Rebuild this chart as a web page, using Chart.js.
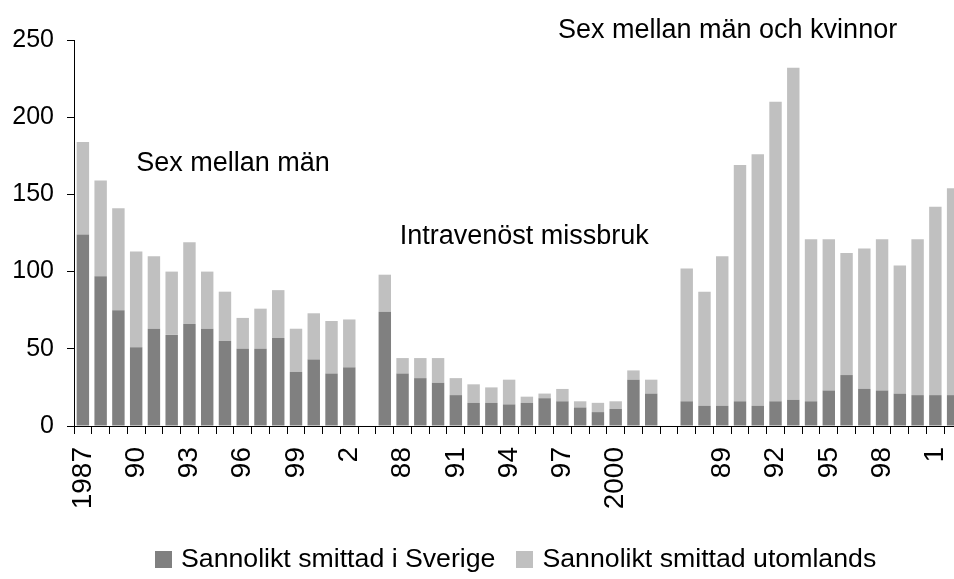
<!DOCTYPE html>
<html>
<head>
<meta charset="utf-8">
<script src="https://cdn.jsdelivr.net/npm/chart.js@4"></script>
<style>
  html, body { margin: 0; padding: 0; background: #fff; overflow: hidden; }
  canvas { display: block; }
  #wrap { position: relative; width: 962px; height: 579px; }
  #legend {
    position: absolute; left: 155px; top: 543px;
    font-family: 'Liberation Sans', Arial, sans-serif; font-size: 26.7px; line-height: 30px;
    color: #000; white-space: nowrap;
  }
  #legend span.item { display: inline-block; margin-right: 21px; }
  #legend span.box { display: inline-block; width: 17px; height: 17px; margin-right: 9px; vertical-align: -1px; }
</style>
</head>
<body>
<div id="wrap">
  <canvas id="myChart" width="962" height="579"></canvas>
  <div id="legend"></div>
</div>
<script>
// Years 1987-2002, repeated for the three groups
var years = ['1987','1988','1989','1990','1991','1992','1993','1994','1995','1996','1997','1998','1999','2000','2001','2002'];

// Sex mellan män
var smmSverige   = [124, 97, 75, 51, 63, 59, 66, 63, 55, 50, 50, 57, 35, 43, 34, 38];
var smmUtomlands = [60, 62, 66, 62, 47, 41, 53, 37, 32, 20, 26, 31, 28, 30, 34, 31];
// Intravenöst missbruk
var ivSverige    = [74, 34, 31, 28, 20, 15, 15, 14, 15, 18, 16, 12, 9, 11, 30, 21];
var ivUtomlands  = [24, 10, 13, 16, 11, 12, 10, 16, 4, 3, 8, 4, 6, 5, 6, 9];
// Sex mellan män och kvinnor
var hetSverige   = [16, 13, 13, 16, 13, 16, 17, 16, 23, 33, 24, 23, 21, 20, 20, 20];
var hetUtomlands = [86, 74, 97, 153, 163, 194, 215, 105, 98, 79, 91, 98, 83, 101, 122, 134];

// tick labels (every third slot, Excel style)
var tickLabels = [
    '1987','','','90','','','93','','','96','','','99','','','2',
    '',
    '','88','','','91','','','94','','','97','','','2000','','',
    '',
    '','','89','','','92','','','95','','','98','','','1',''
];

var yTicks = [0, 50, 100, 150, 200, 250];

var categories = years.concat([''], years, [''], years);
var sverige = smmSverige.concat([null], ivSverige, [null], hetSverige);
var utomlands = smmUtomlands.concat([null], ivUtomlands, [null], hetUtomlands);

var groupTitles = [
    { text: 'Sex mellan män', index: 8.45, value: 170 },
    { text: 'Intravenöst missbruk', index: 24.85, value: 123 },
    { text: 'Sex mellan män och kvinnor', index: 36.3, value: 256 }
];

var FONT = "'Liberation Sans', Arial, sans-serif";

// draw the group captions inside the plot
var captions = {
    id: 'captions',
    afterDatasetsDraw: function(chart) {
        var ctx = chart.ctx;
        var xs = chart.scales.x, ys = chart.scales.y;
        var step = xs.getPixelForValue(1) - xs.getPixelForValue(0);
        ctx.save();
        ctx.font = '27px ' + FONT;
        ctx.fillStyle = '#000';
        ctx.textAlign = 'center';
        ctx.textBaseline = 'middle';
        groupTitles.forEach(function(t) {
            ctx.fillText(t.text, xs.getPixelForValue(0) + t.index * step, ys.getPixelForValue(t.value));
        });
        ctx.restore();
    }
};

var ctx = document.getElementById('myChart').getContext('2d');
var myChart = new Chart(ctx, {
    type: 'bar',
    data: {
        labels: categories,
        datasets: [{
            label: 'Sannolikt smittad i Sverige',
            data: sverige,
            backgroundColor: '#808080',
            barPercentage: 0.7,
            categoryPercentage: 1
        }, {
            label: 'Sannolikt smittad utomlands',
            data: utomlands,
            backgroundColor: '#c0c0c0',
            barPercentage: 0.7,
            categoryPercentage: 1
        }]
    },
    options: {
        responsive: false,
        animation: false,
        layout: { padding: { top: 40, right: 0, bottom: 47, left: 0 } },
        plugins: {
            tooltip: { enabled: false },
            legend: { display: false }
        },
        scales: {
            x: {
                stacked: true,
                afterFit: function(scale) {
                    scale.height = 106;
                    scale.paddingLeft = 0;
                    scale.paddingRight = 0;
                },
                border: { color: '#000', width: 1 },
                grid: { display: true, drawOnChartArea: false, color: '#000', tickLength: 8, offset: true },
                ticks: {
                    autoSkip: false,
                    minRotation: 90,
                    maxRotation: 90,
                    padding: 13,
                    color: '#000',
                    font: { family: FONT, size: 28 },
                    callback: function(value, index) { return tickLabels[index]; }
                }
            },
            y: {
                stacked: true,
                min: 0,
                max: 250,
                afterFit: function(scale) { scale.width = 74; },
                afterBuildTicks: function(scale) {
                    scale.ticks = yTicks.map(function(v) { return { value: v }; });
                },
                border: { color: '#000', width: 1 },
                grid: { display: true, drawOnChartArea: false, color: '#000', tickLength: 7 },
                ticks: {
                    padding: 13,
                    color: '#000',
                    font: { family: FONT, size: 25 }
                }
            }
        }
    },
    plugins: [captions]
});

// legend as plain HTML under the chart
var legendEl = document.getElementById('legend');
myChart.data.datasets.forEach(function(ds) {
    var item = document.createElement('span');
    item.className = 'item';
    var box = document.createElement('span');
    box.className = 'box';
    box.style.background = ds.backgroundColor;
    item.appendChild(box);
    item.appendChild(document.createTextNode(ds.label));
    legendEl.appendChild(item);
});
</script>
</body>
</html>
